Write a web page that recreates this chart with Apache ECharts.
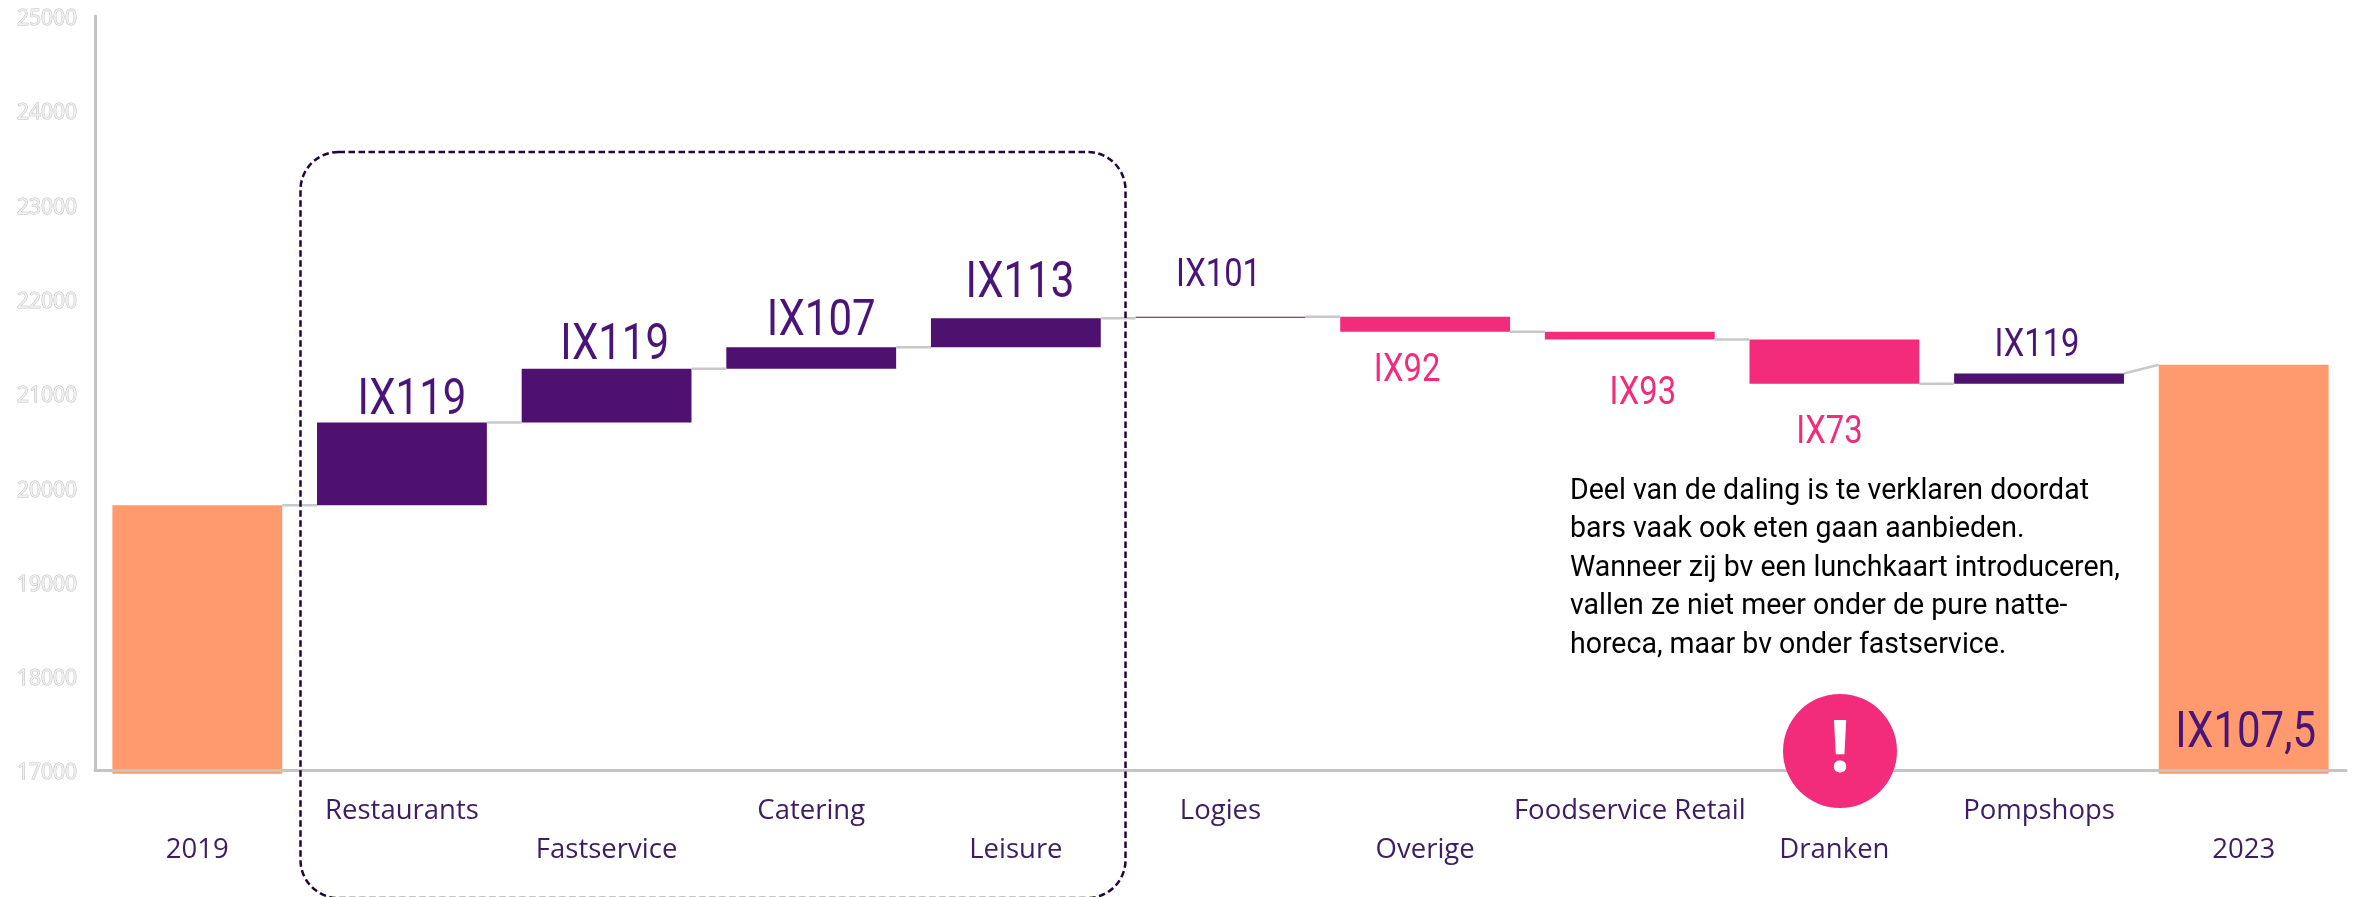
<!DOCTYPE html>
<html>
<head>
<meta charset="utf-8">
<style>
html, body { margin: 0; padding: 0; background: #fff; }
#main { width: 2356px; height: 897px; }
</style>
<script src="https://cdn.jsdelivr.net/npm/echarts@6/dist/echarts.min.js"></script>
</head>
<body>
<div id="main"></div>
<script>
var categories = ['2019', 'Restaurants', 'Fastservice', 'Catering', 'Leisure', 'Logies', 'Overige', 'Foodservice Retail', 'Dranken', 'Pompshops', '2023']
var barLow = [16965, 19812, 20690, 21261, 21488, 21800, 21653, 21569, 21102, 21102, 16965]
var barHigh = [19812, 20690, 21261, 21488, 21795, 21812, 21812, 21653, 21569, 21210, 21303]
var barKind = ['total', 'up', 'up', 'up', 'up', 'up', 'down', 'down', 'down', 'up', 'total']
var indexLabels = ['', 'IX119', 'IX119', 'IX107', 'IX113', 'IX101', 'IX92', 'IX93', 'IX73', 'IX119', 'IX107,5']
// verbindingslijntjes tussen de balken
var stepFrom = [19812, 20690, 21261, 21488, 21795, 21812, 21653, 21569, 21102, 21210]
var stepTo = [19812, 20690, 21261, 21488, 21795, 21812, 21653, 21569, 21102, 21303]
var noteText = [
    'Deel van de daling is te verklaren doordat',
    'bars vaak ook eten gaan aanbieden.',
    'Wanneer zij bv een lunchkaart introduceren,',
    'vallen ze niet meer onder de pure natte-',
    'horeca, maar bv onder fastservice.'
]

var kindColor = { total: '#ff9a6e', up: '#4f1170', down: '#f22b7b' }
var textPurple = '#3d1d63'

// plaats van de IX-labels t.o.v. de balk: dx, dy (vanaf boven- of onderkant) en grootte
var labelLayout = [
    null,
    { dx: 10, dy: -21, edge: 'high', size: 50 },
    { dx: 8, dy: -22, edge: 'high', size: 50 },
    { dx: 10, dy: -25, edge: 'high', size: 50 },
    { dx: 4, dy: -34, edge: 'high', size: 50 },
    { dx: -2, dy: -40, edge: 'high', size: 39 },
    { dx: -18, dy: 40, edge: 'low', size: 39 },
    { dx: 13, dy: 55, edge: 'low', size: 39 },
    { dx: -5, dy: 50, edge: 'low', size: 39 },
    { dx: -2, dy: -27, edge: 'high', size: 39 },
    { dx: 2, dy: -39, edge: 'low', size: 50 }
]

var myChart = echarts.init(document.getElementById('main'))

var options = {
    animation: false,
    backgroundColor: '#fff',
    grid: { left: 95, right: 10, top: 16, bottom: 126.5, containLabel: false },
    xAxis: {
        type: 'category',
        data: categories,
        z: 5,
        axisLine: { lineStyle: { color: '#c4c4c4', width: 3 } },
        axisTick: { show: false },
        axisLabel: {
            interval: 0,
            hideOverlap: false,
            margin: 21,
            color: textPurple,
            fontFamily: 'Open Sans',
            fontSize: 27.5,
            lineHeight: 39,
            verticalAlign: 'top',
            formatter: function (name, i) {
                return i % 2 ? name : '\n' + name
            }
        }
    },
    yAxis: {
        type: 'value',
        min: 17000,
        max: 25000,
        interval: 1000,
        z: 5,
        splitLine: { show: false },
        axisTick: { show: false },
        axisLine: { show: true, lineStyle: { color: '#c4c4c4', width: 3 } },
        axisLabel: {
            margin: 18,
            color: '#f0f0f0',
            textBorderColor: '#bdbdbd',
            textBorderWidth: 1,
            fontFamily: 'Open Sans',
            fontSize: 21,
            verticalAlign: 'top',
            lineHeight: 6,
            formatter: function (v) { return String(v) }
        }
    },
    series: [
        {
            name: 'base',
            type: 'bar',
            stack: 'w',
            clip: false,
            silent: true,
            barWidth: '83%',
            itemStyle: { color: 'transparent' },
            data: barLow
        },
        {
            name: 'delta',
            type: 'bar',
            stack: 'w',
            clip: false,
            barWidth: '83%',
            data: barHigh.map(function (v, i) {
                return { value: v - barLow[i], itemStyle: { color: kindColor[barKind[i]] } }
            })
        },
        {
            name: 'steps',
            type: 'custom',
            silent: true,
            z: 3,
            data: stepFrom.map(function (v, i) { return [i, v, stepTo[i]] }),
            renderItem: function (params, api) {
                var half = api.size([1, 0])[0] * 0.83 / 2
                var a = api.coord([api.value(0), api.value(1)])
                var b = api.coord([api.value(0) + 1, api.value(2)])
                return {
                    type: 'line',
                    shape: { x1: a[0] + half, y1: a[1], x2: b[0] - half, y2: b[1] },
                    style: { stroke: '#c8c8c8', lineWidth: 2.5, fill: null }
                }
            }
        },
        {
            name: 'labels',
            type: 'custom',
            silent: true,
            z: 6,
            data: categories.map(function (c, i) { return [i, barLow[i], barHigh[i]] }),
            renderItem: function (params, api) {
                var i = api.value(0)
                var lay = labelLayout[i]
                if (!lay) return null
                var p = api.coord([i, lay.edge === 'high' ? api.value(2) : api.value(1)])
                return {
                    type: 'text',
                    x: p[0] + lay.dx,
                    y: p[1] + lay.dy,
                    scaleX: 0.84,
                    style: {
                        text: indexLabels[i],
                        fill: barKind[i] === 'down' ? kindColor.down : '#4b1478',
                        font: lay.size + 'px Roboto',
                        align: 'center',
                        verticalAlign: 'middle'
                    }
                }
            }
        }
    ],
    graphic: [
        {
            type: 'rect',
            z: 10,
            shape: { x: 300.5, y: 152, width: 825, height: 746, r: 38 },
            style: { fill: null, stroke: '#20063f', lineWidth: 2.5, lineDash: [6.5, 3.5] }
        },
        {
            type: 'text',
            z: 10,
            x: 1570,
            y: 472,
            scaleX: 0.95,
            style: {
                text: noteText.join('\n'),
                font: '30px Roboto',
                lineHeight: 38.5,
                fill: '#000'
            }
        },
        {
            type: 'circle',
            z: 10,
            shape: { cx: 1840, cy: 751, r: 57 },
            style: { fill: '#f22b7b' }
        },
        {
            type: 'text',
            z: 11,
            x: 1840,
            y: 751,
            style: {
                text: '!',
                font: 'bold 72px "Open Sans"',
                fill: '#fff',
                align: 'center',
                verticalAlign: 'middle'
            }
        }
    ]
}
myChart.setOption(options)
</script>
</body>
</html>
